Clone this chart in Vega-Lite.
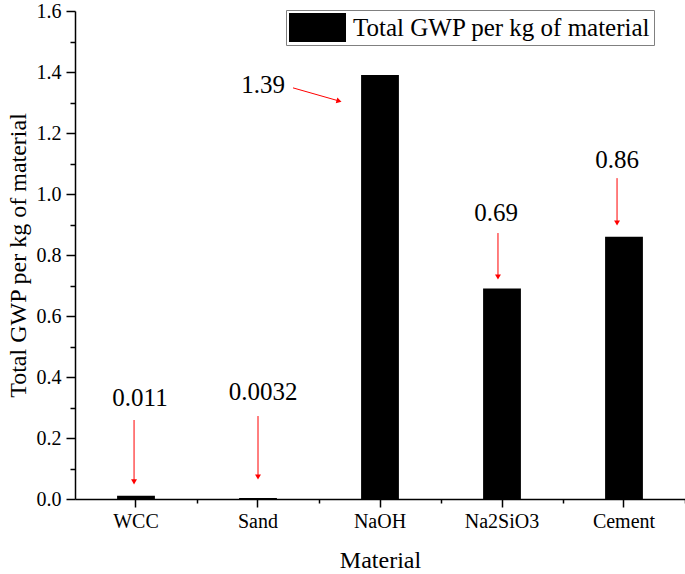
{
  "$schema": "https://vega.github.io/schema/vega-lite/v6.json",
  "description": "Total GWP per kg of material, bar chart with arrow annotations.",
  "width": 610,
  "height": 488,
  "autosize": "none",
  "padding": {"left": 75, "top": 11, "right": 0, "bottom": 75},
  "background": "white",
  "datasets": {
    "bars": [
      {"Material": "WCC", "GWP": 0.011, "Series": "Total GWP per kg of material"},
      {"Material": "Sand", "GWP": 0.0032, "Series": "Total GWP per kg of material"},
      {"Material": "NaOH", "GWP": 1.39, "Series": "Total GWP per kg of material"},
      {"Material": "Na2SiO3", "GWP": 0.69, "Series": "Total GWP per kg of material"},
      {"Material": "Cement", "GWP": 0.86, "Series": "Total GWP per kg of material"}
    ],
    "notes": [
      {"label": "0.011", "tx": 0.033, "ty": 0.331, "ax1": -0.016, "ay1": 0.259, "ax2": -0.016, "ay2": 0.056, "dir": "down"},
      {"label": "0.0032", "tx": 1.041, "ty": 0.351, "ax1": 1.0, "ay1": 0.272, "ax2": 1.0, "ay2": 0.072, "dir": "down"},
      {"label": "1.39", "tx": 1.041, "ty": 1.357, "ax1": 1.287, "ay1": 1.348, "ax2": 1.664, "ay2": 1.305, "dir": "diag"},
      {"label": "0.69", "tx": 2.951, "ty": 0.938, "ax1": 2.967, "ay1": 0.872, "ax2": 2.967, "ay2": 0.728, "dir": "down"},
      {"label": "0.86", "tx": 3.943, "ty": 1.111, "ax1": 3.943, "ay1": 1.052, "ax2": 3.943, "ay2": 0.905, "dir": "down"}
    ]
  },
  "config": {
    "view": {"stroke": null},
    "font": "Liberation Serif",
    "axis": {
      "grid": false,
      "ticks": true,
      "domainColor": "#000000",
      "domainWidth": 1.5,
      "tickColor": "#000000",
      "tickWidth": 1.5,
      "tickOpacity": 1,
      "labelFont": "Liberation Serif",
      "labelColor": "#000000",
      "labelFontSize": 20,
      "titleFont": "Liberation Serif",
      "titleColor": "#000000",
      "titleFontSize": 24,
      "titleFontWeight": "normal"
    }
  },
  "resolve": {
    "scale": {"x": "independent", "y": "independent"},
    "axis": {"x": "independent", "y": "independent"}
  },
  "layer": [
    {
      "data": {"name": "bars"},
      "mark": {"type": "bar"},
      "encoding": {
        "x": {
          "field": "Material",
          "type": "nominal",
          "sort": null,
          "scale": {"paddingInner": 0.69, "paddingOuter": 0.345},
          "axis": {
            "title": "Material",
            "orient": "bottom",
            "tickSize": 8,
            "labelAngle": 0,
            "labelPadding": 4,
            "titlePadding": 17
          }
        },
        "y": {
          "field": "GWP",
          "type": "quantitative",
          "scale": {"domain": [0, 1.6], "nice": false},
          "axis": {
            "title": "Total GWP per kg of material",
            "orient": "left",
            "values": [0, 0.2, 0.4, 0.6, 0.8, 1.0, 1.2, 1.4, 1.6],
            "format": ".1f",
            "tickSize": 9,
            "labelPadding": 5,
            "titlePadding": 6
          }
        },
        "color": {
          "field": "Series",
          "type": "nominal",
          "scale": {"range": ["#000000"]},
          "legend": {
            "title": null,
            "orient": "none",
            "legendX": 211,
            "legendY": -1,
            "symbolType": "M-1.966,-1H1.966V1H-1.966Z",
            "symbolSize": 841,
            "symbolOffset": 14,
            "symbolStrokeWidth": 0,
            "labelFont": "Liberation Serif",
            "labelFontSize": 25,
            "labelColor": "#000000",
            "labelLimit": 500,
            "labelOffset": 21,
            "strokeColor": "#808080",
            "fillColor": "#ffffff",
            "padding": 3
          }
        }
      }
    },
    {
      "data": {"name": "notes"},
      "mark": {"type": "text", "font": "Liberation Serif", "fontSize": 25, "align": "center", "baseline": "middle", "color": "#000000"},
      "encoding": {
        "x": {
          "field": "tx",
          "type": "quantitative",
          "scale": {"domain": [-0.5, 4.5], "nice": false, "zero": false},
          "axis": {
            "title": null,
            "orient": "bottom",
            "values": [0.5, 1.5, 2.5, 3.5, 4.5],
            "labels": false,
            "domain": false,
            "ticks": true,
            "tickSize": 4
          }
        },
        "y": {
          "field": "ty",
          "type": "quantitative",
          "scale": {"domain": [0, 1.6], "nice": false},
          "axis": {
            "title": null,
            "orient": "left",
            "values": [0.1, 0.3, 0.5, 0.7, 0.9, 1.1, 1.3, 1.5],
            "labels": false,
            "domain": false,
            "ticks": true,
            "tickSize": 5
          }
        },
        "text": {"field": "label"}
      }
    },
    {
      "data": {"name": "notes"},
      "mark": {"type": "rule", "color": "#ff0000", "strokeWidth": 1},
      "encoding": {
        "x": {"field": "ax1", "type": "quantitative", "scale": {"domain": [-0.5, 4.5], "nice": false, "zero": false}, "axis": null},
        "x2": {"field": "ax2"},
        "y": {"field": "ay1", "type": "quantitative", "scale": {"domain": [0, 1.6], "nice": false}, "axis": null},
        "y2": {"field": "ay2"}
      }
    },
    {
      "data": {"name": "notes"},
      "transform": [{"filter": "datum.dir == 'down'"}],
      "mark": {"type": "point", "shape": "triangle-down", "filled": true, "color": "#ff0000", "size": 35, "opacity": 1},
      "encoding": {
        "x": {"field": "ax2", "type": "quantitative", "scale": {"domain": [-0.5, 4.5], "nice": false, "zero": false}, "axis": null},
        "y": {"field": "ay2", "type": "quantitative", "scale": {"domain": [0, 1.6], "nice": false}, "axis": null}
      }
    },
    {
      "data": {"name": "notes"},
      "transform": [{"filter": "datum.dir == 'diag'"}],
      "mark": {"type": "point", "shape": "triangle-right", "angle": 15.6, "filled": true, "color": "#ff0000", "size": 35, "opacity": 1},
      "encoding": {
        "x": {"field": "ax2", "type": "quantitative", "scale": {"domain": [-0.5, 4.5], "nice": false, "zero": false}, "axis": null},
        "y": {"field": "ay2", "type": "quantitative", "scale": {"domain": [0, 1.6], "nice": false}, "axis": null}
      }
    }
  ]
}
